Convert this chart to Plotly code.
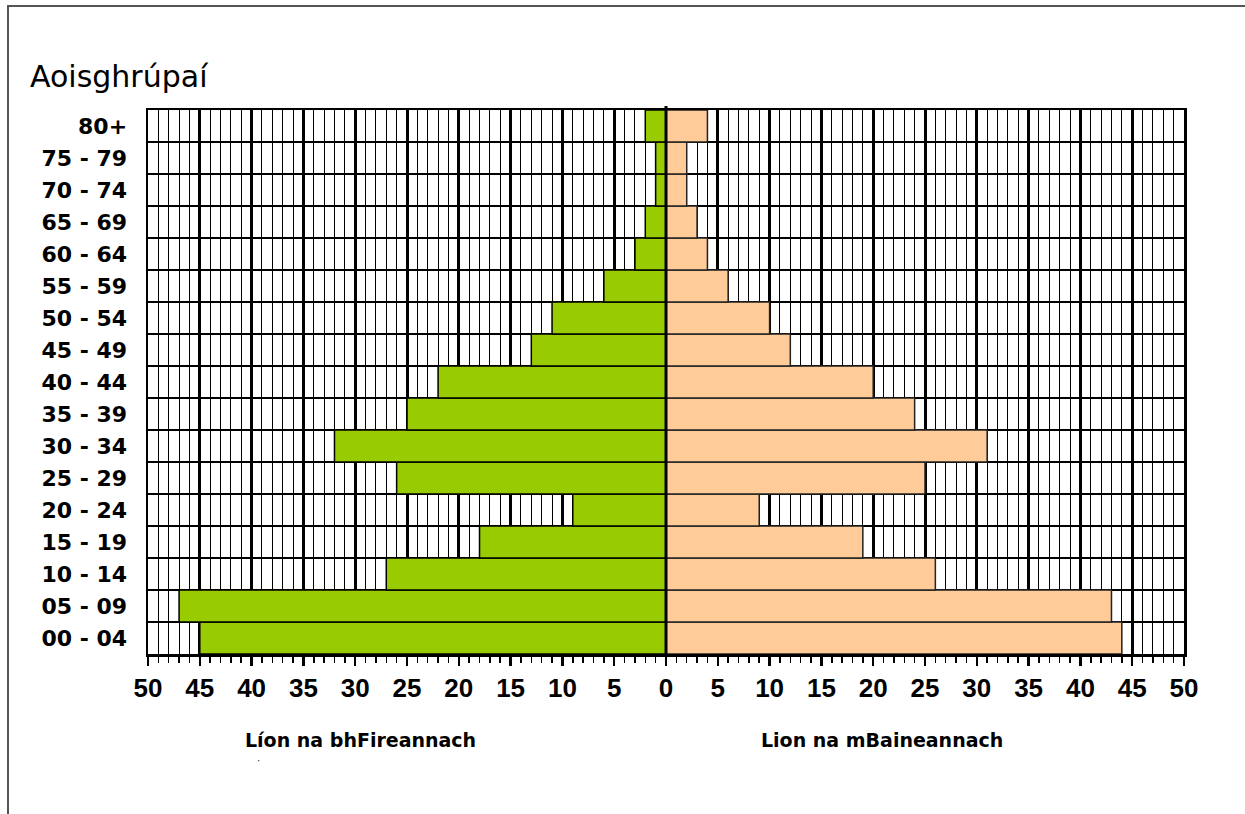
import plotly.graph_objects as go

# ---- data ----
ages = ["00 - 04", "05 - 09", "10 - 14", "15 - 19", "20 - 24", "25 - 29", "30 - 34",
        "35 - 39", "40 - 44", "45 - 49", "50 - 54", "55 - 59", "60 - 64", "65 - 69",
        "70 - 74", "75 - 79", "80+"]
male = [45, 47, 27, 18, 9, 26, 32, 25, 22, 13, 11, 6, 3, 2, 1, 1, 2]
female = [44, 43, 26, 19, 9, 25, 31, 24, 20, 12, 10, 6, 4, 3, 2, 2, 4]
x_ticks = list(range(-50, 51, 5))
x_tick_labels = [str(abs(v)) for v in x_ticks]

title_text = "Aoisghrúpaí"
male_label = "Líon na bhFireannach"
female_label = "Lion na mBaineannach"

# ---- layout geometry (pixels) ----
W, H = 1245, 814
L, R, T, B = 148, 61, 110, 160
PW, PH = W - L - R, H - T - B


def px(x):
    return (x - L) / PW


def py(y):
    return (H - B - y) / PH


ypos = list(range(len(ages)))

fig = go.Figure()
fig.add_trace(go.Bar(
    y=ypos, x=[-v for v in male], orientation="h",
    marker=dict(color="#99CC00", line=dict(color="#000000", width=1.5)),
    name=male_label, hoverinfo="skip",
))
fig.add_trace(go.Bar(
    y=ypos, x=female, orientation="h",
    marker=dict(color="#FFCC99", line=dict(color="#222222", width=1.5)),
    name=female_label, hoverinfo="skip",
))

fig.update_layout(
    width=W, height=H,
    margin=dict(l=L, r=R, t=T, b=B),
    paper_bgcolor="white", plot_bgcolor="white",
    barmode="overlay", bargap=0,
    showlegend=False,
    xaxis=dict(
        range=[-50, 50], tickmode="array", tickvals=x_ticks, ticktext=x_tick_labels,
        showgrid=True, gridcolor="black", gridwidth=3,
        zeroline=False,
        ticks="outside", ticklen=9, tickwidth=2.5, tickcolor="black",
        minor=dict(tickmode="linear", tick0=0, dtick=1, showgrid=True,
                   gridcolor="black", gridwidth=1, ticks="outside",
                   ticklen=6, tickwidth=1.5, tickcolor="black"),
        showline=True, linecolor="black", linewidth=2.5, mirror=True,
        tickfont=dict(family="Liberation Sans, Arial, sans-serif", size=26,
                      color="black", weight="bold"),
        fixedrange=True,
    ),
    yaxis=dict(
        range=[-0.5, len(ages) - 0.5], tickmode="array", tickvals=ypos, ticktext=ages,
        showgrid=False, zeroline=False,
        ticks="outside", ticklen=14, tickcolor="rgba(0,0,0,0)", tickwidth=1,
        minor=dict(tickmode="array", tickvals=[i - 0.5 for i in range(len(ages) + 1)],
                   showgrid=True, gridcolor="black", gridwidth=2, ticks=""),
        showline=True, linecolor="black", linewidth=2.5, mirror=True,
        tickfont=dict(family="DejaVu Sans, Verdana, sans-serif", size=22,
                      color="black", weight="bold"),
        fixedrange=True,
    ),
)

# centre line at zero slightly overshooting the top
fig.add_shape(type="line", xref="x", yref="paper", x0=0, x1=0, y0=0, y1=py(T - 4),
              line=dict(color="black", width=3), layer="above")

# outer frame (left and top edges visible)
fig.add_shape(type="rect", xref="paper", yref="paper",
              x0=px(8), x1=px(W + 10), y0=py(H + 10), y1=py(6),
              line=dict(color="#555555", width=2), layer="below")

fig.add_annotation(text=title_text, xref="paper", yref="paper",
                   x=px(28), y=py(76), xanchor="left", yanchor="middle", showarrow=False,
                   font=dict(family="DejaVu Sans, Verdana, sans-serif", size=30, color="black"))
fig.add_annotation(text=male_label, xref="paper", yref="paper",
                   x=px(360), y=py(740), xanchor="center", yanchor="middle", showarrow=False,
                   font=dict(family="DejaVu Sans, Verdana, sans-serif", size=19,
                             color="black", weight="bold"))
fig.add_annotation(text=female_label, xref="paper", yref="paper",
                   x=px(882), y=py(740), xanchor="center", yanchor="middle", showarrow=False,
                   font=dict(family="DejaVu Sans, Verdana, sans-serif", size=19,
                             color="black", weight="bold"))
fig.add_annotation(text="·", xref="paper", yref="paper",
                   x=px(258), y=py(760), xanchor="center", yanchor="middle", showarrow=False,
                   font=dict(family="DejaVu Sans, sans-serif", size=10, color="#333333"))

fig.write_html("out.html",
               config={"displayModeBar": False, "staticPlot": True},
               post_script="document.body.style.margin='0';document.body.style.overflow='hidden';")
